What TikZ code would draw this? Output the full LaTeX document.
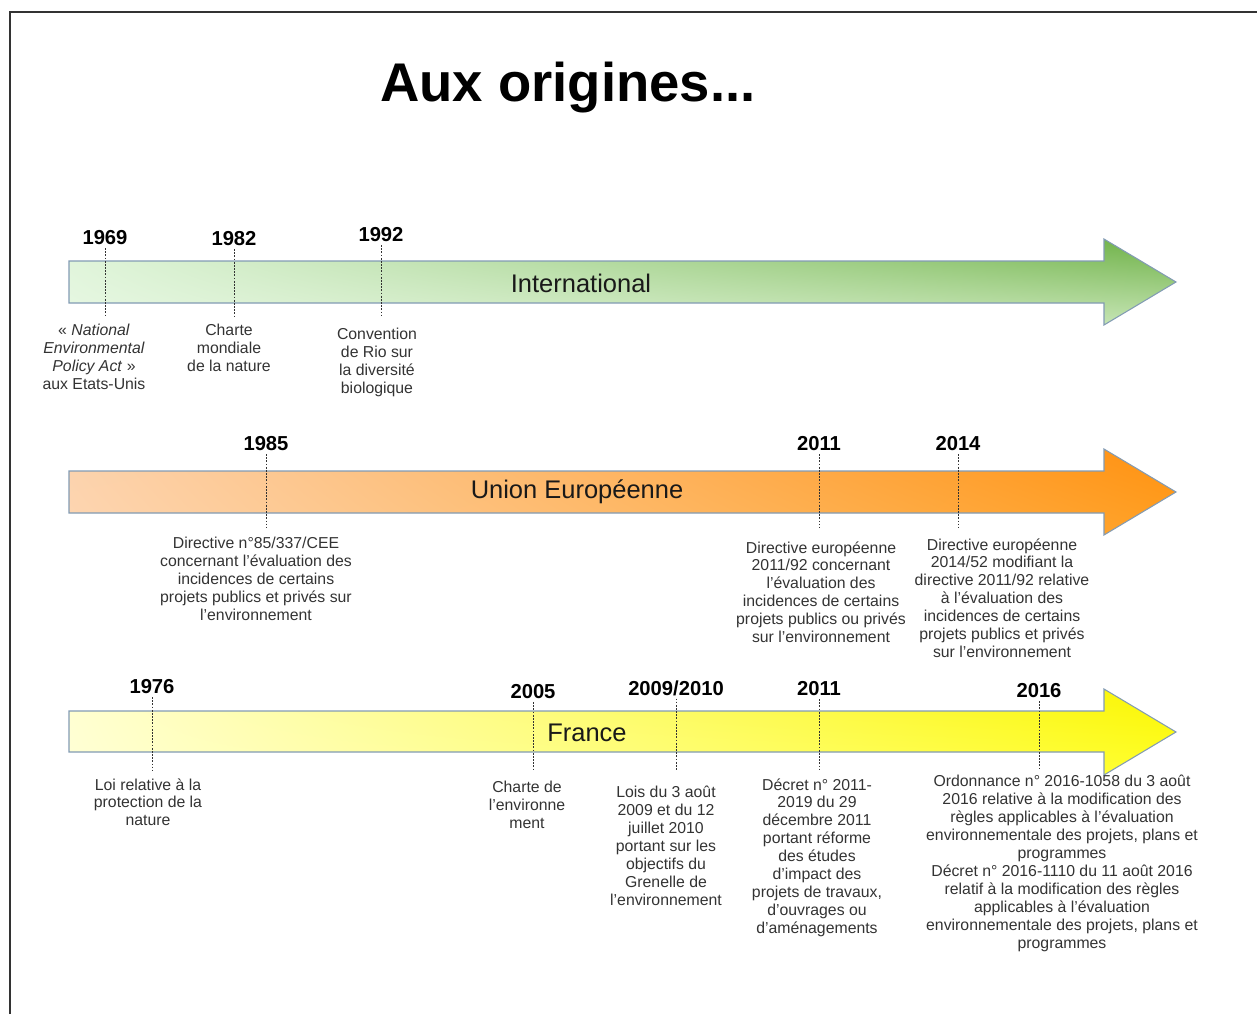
\documentclass[tikz,border=0pt]{standalone}
\usepackage{fontspec}
\setmainfont{Liberation Sans}
\usetikzlibrary{shadings}
\definecolor{edgeblue}{RGB}{130,155,180}
\definecolor{greenUL}{RGB}{222,244,216}
\definecolor{greenLL}{RGB}{232,248,228}
\definecolor{greenUR}{RGB}{108,176,68}
\definecolor{greenLR}{RGB}{196,228,178}
\definecolor{orangeUL}{RGB}{252,210,172}
\definecolor{orangeLL}{RGB}{253,214,178}
\definecolor{orangeUR}{RGB}{255,145,15}
\definecolor{orangeLR}{RGB}{255,160,35}
\definecolor{yellowUL}{RGB}{255,255,208}
\definecolor{yellowLL}{RGB}{255,255,214}
\definecolor{yellowUR}{RGB}{250,245,0}
\definecolor{yellowLR}{RGB}{255,255,40}

\begin{document}
\begin{tikzpicture}[
  x=0.02cm, y=-0.02cm,
  every node/.style={inner sep=0pt, font=\fontsize{9}{10.2}\selectfont, text=black!80},
  year/.style={font=\fontsize{11.5}{13}\selectfont\bfseries, text=black, inner sep=1.5pt},
  note/.style={align=center, anchor=north},
  bandlabel/.style={font=\fontsize{14.5}{16}\selectfont, text=black!90},
  band/.style={draw=edgeblue, line width=0.6pt},
  tick/.style={draw=black!80, line width=0.4pt, dash pattern=on 1pt off 0.8pt}
]
\useasboundingbox (0,0) rectangle (1257,1014);
\draw[black!80, line width=0.8pt] (10,1014) -- (10,12) -- (1257,12);

\node[font=\fontsize{31}{36}\selectfont\bfseries, text=black] (title) at (568,88) {Aux origines...};

% International
\shadedraw[band, upper left=greenUL, lower left=greenLL, upper right=greenUR, lower right=greenLR]
  (69,261) -- (1104,261) -- (1104,239) -- (1176,282) -- (1104,325) -- (1104,303) -- (69,303) -- cycle;
\node[bandlabel] (intl) at (581,283) {International};
\coordinate (intlow) at (0,317);

\node[year] (y69) at (105,238) {1969};
\node[year] (y82) at (234,239) {1982};
\node[year] (y92) at (381,235) {1992};

\node[note] (d69) at (94,324) {«~\textit{National}\\\textit{Environmental}\\\textit{Policy Act}~»\\aux Etats-Unis};
\node[note] (d82) at (229,324) {Charte\\mondiale\\de la nature};
\node[note] (d92) at (377,328) {Convention\\de Rio sur\\la diversité\\biologique};

\foreach \n in {y69,y82,y92}
  \draw[tick] (\n.south) -- (\n.south |- intlow);

% Union europeenne
\shadedraw[band, upper left=orangeUL, lower left=orangeLL, upper right=orangeUR, lower right=orangeLR]
  (69,471) -- (1104,471) -- (1104,449) -- (1176,492) -- (1104,535) -- (1104,513) -- (69,513) -- cycle;
\node[bandlabel] (ue) at (577,492) {Union Européenne};
\coordinate (uelow) at (0,528);

\node[year] (y85) at (266,444) {1985};
\node[year] (y11a) at (819,444) {2011};
\node[year] (y14) at (958,444) {2014};

\node[note] (d85) at (256,537) {Directive n°85/337/CEE\\concernant l'évaluation des\\incidences de certains\\projets publics et privés sur\\l'environnement};
\node[note] (d11a) at (821,541) {Directive européenne\\2011/92 concernant\\l'évaluation des\\incidences de certains\\projets publics ou privés\\sur l'environnement};
\node[note] (d14) at (1002,538) {Directive européenne\\2014/52 modifiant la\\directive 2011/92 relative\\à l'évaluation des\\incidences de certains\\projets publics et privés\\sur l'environnement};

\foreach \n in {y85,y11a,y14}
  \draw[tick] (\n.south) -- (\n.south |- uelow);

% France
\shadedraw[band, upper left=yellowUL, lower left=yellowLL, upper right=yellowUR, lower right=yellowLR]
  (69,711) -- (1104,711) -- (1104,689) -- (1176,732) -- (1104,775) -- (1104,752) -- (69,752) -- cycle;
\node[bandlabel] (fr) at (587,733) {France};
\coordinate (frlow) at (0,770);

\node[year] (y76) at (152,687) {1976};
\node[year] (y05) at (533,692) {2005};
\node[year] (y0910) at (676,688) {2009/2010};
\node[year] (y11b) at (819,689) {2011};
\node[year] (y16) at (1039,691) {2016};

\node[note] (d76) at (148,778) {Loi relative à la\\protection de la\\nature};
\node[note] (d05) at (527,781) {Charte de\\l'environne\\ment};
\node[note] (d0910) at (666,786) {Lois du 3 août\\2009 et du 12\\juillet 2010\\portant sur les\\objectifs du\\Grenelle de\\l'environnement};
\node[note] (d11b) at (817,778) {Décret n° 2011-\\2019 du 29\\décembre 2011\\portant réforme\\des études\\d'impact des\\projets de travaux,\\d'ouvrages ou\\d'aménagements};
\node[note] (d16) at (1062,775) {Ordonnance n° 2016-1058 du 3 août\\2016 relative à la modification des\\règles applicables à l'évaluation\\environnementale des projets, plans et\\programmes\\Décret n° 2016-1110 du 11 août 2016\\relatif à la modification des règles\\applicables à l'évaluation\\environnementale des projets, plans et\\programmes};

\foreach \n in {y76,y05,y0910,y11b,y16}
  \draw[tick] (\n.south) -- (\n.south |- frlow);
\end{tikzpicture}
\end{document}
